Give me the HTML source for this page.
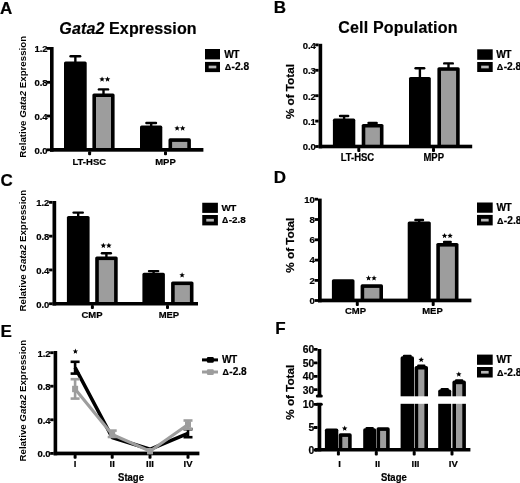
<!DOCTYPE html>
<html><head><meta charset="utf-8"><style>
html,body{margin:0;padding:0;background:#fff;}
body{width:520px;height:483px;overflow:hidden;}
svg{display:block;will-change:transform;filter:blur(0.3px);}
text{font-family:"Liberation Sans", sans-serif;font-weight:bold;stroke:#000;stroke-width:0.2px;}
</style></head><body>
<svg width="520" height="483" viewBox="0 0 520 483">
<rect width="520" height="483" fill="#fff"/>
<text x="0" y="13.7" font-size="17" text-anchor="start" fill="#000">A</text>
<text x="59.3" y="34.2" font-size="16" letter-spacing="0.14"><tspan font-style="italic">Gata2</tspan> Expression</text>
<text x="25.9" y="96.8" font-size="9.7" style="stroke:none" text-anchor="middle" transform="rotate(-90 25.9 96.8)">Relative <tspan font-style="italic">Gata2</tspan> Expression</text>
<rect x="50" y="47" width="3.6" height="104.7" fill="#000"/>
<rect x="46.6" y="47" width="3.4" height="2.8" fill="#000"/>
<text x="47.6" y="52.27" font-size="9.5" text-anchor="end" fill="#000">1.2</text>
<rect x="46.6" y="80.9" width="3.4" height="2.8" fill="#000"/>
<text x="47.6" y="86.17" font-size="9.5" text-anchor="end" fill="#000">0.8</text>
<rect x="46.6" y="114.6" width="3.4" height="2.8" fill="#000"/>
<text x="47.6" y="119.87" font-size="9.5" text-anchor="end" fill="#000">0.4</text>
<rect x="46.6" y="148.4" width="3.4" height="2.8" fill="#000"/>
<text x="47.6" y="153.67" font-size="9.5" text-anchor="end" fill="#000">0.0</text>
<rect x="64" y="61.5" width="22.7" height="88.5" fill="#000" rx="1.6"/>
<line x1="75.35" y1="62.5" x2="75.35" y2="56.2" stroke="#000" stroke-width="2.4" stroke-linecap="butt"/>
<line x1="70.55" y1="56.2" x2="80.15" y2="56.2" stroke="#000" stroke-width="2.4" stroke-linecap="round"/>
<rect x="92.4" y="93.4" width="22.2" height="56.6" fill="#000" rx="1.6"/>
<rect x="96" y="97" width="15" height="53" fill="#9d9d9d"/>
<line x1="103.5" y1="94.4" x2="103.5" y2="89.4" stroke="#000" stroke-width="2.4" stroke-linecap="butt"/>
<line x1="98.9" y1="89.4" x2="108.1" y2="89.4" stroke="#000" stroke-width="2.4" stroke-linecap="round"/>
<rect x="140" y="125.6" width="22.3" height="24.4" fill="#000" rx="1.6"/>
<line x1="151.2" y1="126.6" x2="151.2" y2="123" stroke="#000" stroke-width="2.4" stroke-linecap="butt"/>
<line x1="146.4" y1="123" x2="156" y2="123" stroke="#000" stroke-width="2.4" stroke-linecap="round"/>
<rect x="168.5" y="138.3" width="22.4" height="11.7" fill="#000" rx="1.6"/>
<rect x="172.1" y="141.9" width="15.2" height="8.1" fill="#9d9d9d"/>
<polygon points="102.05,76.4 102.81,78.25 104.81,78.4 103.29,79.7 103.75,81.65 102.05,80.6 100.35,81.65 100.81,79.7 99.29,78.4 101.29,78.25" fill="#000"/>
<polygon points="107.55,76.4 108.31,78.25 110.31,78.4 108.79,79.7 109.25,81.65 107.55,80.6 105.85,81.65 106.31,79.7 104.79,78.4 106.79,78.25" fill="#000"/>
<polygon points="177.15,125.4 177.91,127.25 179.91,127.4 178.39,128.7 178.85,130.65 177.15,129.6 175.45,130.65 175.91,128.7 174.39,127.4 176.39,127.25" fill="#000"/>
<polygon points="182.65,125.4 183.41,127.25 185.41,127.4 183.89,128.7 184.35,130.65 182.65,129.6 180.95,130.65 181.41,128.7 179.89,127.4 181.89,127.25" fill="#000"/>
<rect x="50" y="148" width="153.4" height="3.7" fill="#000"/>
<rect x="88.1" y="151.2" width="3" height="4.1" fill="#000" rx="1"/>
<rect x="164" y="151.2" width="3" height="4.1" fill="#000" rx="1"/>
<text x="89.3" y="164.6" font-size="9.5" text-anchor="middle" fill="#000">LT-HSC</text>
<text x="165.5" y="164.6" font-size="9.5" text-anchor="middle" fill="#000">MPP</text>
<rect x="205" y="49" width="15" height="10.4" fill="#000"/>
<rect x="205" y="61.9" width="15" height="10.2" fill="#000"/>
<rect x="208.7" y="65.65" width="7.6" height="2.7" fill="#b8b8b8"/>
<text x="224.2" y="58.1" font-size="10.2" text-anchor="start" letter-spacing="-0.6" fill="#000">WT</text>
<text x="224.2" y="70.4" font-size="10.2"><tspan font-size="8.98" dx="0.5">&#916;</tspan><tspan dx="0.4">-2.8</tspan></text>
<text x="273.8" y="12.7" font-size="17" text-anchor="start" fill="#000">B</text>
<text x="397.9" y="32.8" font-size="16" text-anchor="middle" letter-spacing="0.2" fill="#000">Cell Population</text>
<text x="293.9" y="91.6" font-size="11.7" text-anchor="middle" transform="rotate(-90 293.9 91.6)" fill="#000">% of Total</text>
<rect x="318.6" y="43.8" width="3.6" height="104.5" fill="#000"/>
<rect x="315.2" y="43.5" width="3.4" height="2.8" fill="#000"/>
<text x="315.9" y="48.77" font-size="9.5" text-anchor="end" fill="#000">0.4</text>
<rect x="315.2" y="68.9" width="3.4" height="2.8" fill="#000"/>
<text x="315.9" y="74.17" font-size="9.5" text-anchor="end" fill="#000">0.3</text>
<rect x="315.2" y="94.3" width="3.4" height="2.8" fill="#000"/>
<text x="315.9" y="99.57" font-size="9.5" text-anchor="end" fill="#000">0.2</text>
<rect x="315.2" y="119.7" width="3.4" height="2.8" fill="#000"/>
<text x="315.9" y="124.97" font-size="9.5" text-anchor="end" fill="#000">0.1</text>
<rect x="315.2" y="145.1" width="3.4" height="2.8" fill="#000"/>
<text x="315.9" y="150.37" font-size="9.5" text-anchor="end" fill="#000">0.0</text>
<rect x="332.9" y="118.6" width="22.4" height="27.4" fill="#000" rx="1.6"/>
<line x1="344.1" y1="119.6" x2="344.1" y2="116" stroke="#000" stroke-width="2.4" stroke-linecap="butt"/>
<line x1="340.05" y1="116" x2="348.15" y2="116" stroke="#000" stroke-width="2.4" stroke-linecap="round"/>
<rect x="361.7" y="123.9" width="21.8" height="22.1" fill="#000" rx="1.6"/>
<rect x="365.3" y="127.5" width="14.6" height="18.5" fill="#9d9d9d"/>
<line x1="372.6" y1="124.9" x2="372.6" y2="123" stroke="#000" stroke-width="2.4" stroke-linecap="butt"/>
<line x1="368.55" y1="123" x2="376.65" y2="123" stroke="#000" stroke-width="2.4" stroke-linecap="round"/>
<rect x="409" y="77" width="21.8" height="69" fill="#000" rx="1.6"/>
<line x1="419.9" y1="78" x2="419.9" y2="68.2" stroke="#000" stroke-width="2.4" stroke-linecap="butt"/>
<line x1="415.6" y1="68.2" x2="424.2" y2="68.2" stroke="#000" stroke-width="2.4" stroke-linecap="round"/>
<rect x="437.4" y="67.2" width="22.3" height="78.8" fill="#000" rx="1.6"/>
<rect x="441" y="70.8" width="15.1" height="75.2" fill="#9d9d9d"/>
<line x1="448.5" y1="68.2" x2="448.5" y2="63.4" stroke="#000" stroke-width="2.4" stroke-linecap="butt"/>
<line x1="444.2" y1="63.4" x2="452.8" y2="63.4" stroke="#000" stroke-width="2.4" stroke-linecap="round"/>
<rect x="318.6" y="144.7" width="153.6" height="3.6" fill="#000"/>
<rect x="357.3" y="147.8" width="3" height="4.1" fill="#000" rx="1"/>
<rect x="432" y="147.8" width="3" height="4.1" fill="#000" rx="1"/>
<text x="0" y="0" font-size="9.5" text-anchor="middle" transform="translate(357.4 161.2) scale(1 1.06)" fill="#000">LT-HSC</text>
<text x="0" y="0" font-size="9.5" text-anchor="middle" transform="translate(433.7 161.2) scale(1 1.06)" fill="#000">MPP</text>
<rect x="477.2" y="49.3" width="15.5" height="10.5" fill="#000"/>
<rect x="477.2" y="62" width="15.5" height="10" fill="#000"/>
<rect x="481.15" y="65.65" width="7.6" height="2.7" fill="#b8b8b8"/>
<text x="496.3" y="58.1" font-size="10.2" text-anchor="start" letter-spacing="-0.6" fill="#000">WT</text>
<text x="496.3" y="69.9" font-size="10.2"><tspan font-size="8.98" dx="0.5">&#916;</tspan><tspan dx="0.4">-2.8</tspan></text>
<text x="0.6" y="186" font-size="17" text-anchor="start" fill="#000">C</text>
<text x="25.9" y="250.65" font-size="9.7" style="stroke:none" text-anchor="middle" transform="rotate(-90 25.9 250.65)">Relative <tspan font-style="italic">Gata2</tspan> Expression</text>
<rect x="52.5" y="201" width="3.7" height="104.5" fill="#000"/>
<rect x="49.1" y="200.95" width="3.4" height="2.8" fill="#000"/>
<text x="49.4" y="206.22" font-size="9.5" text-anchor="end" fill="#000">1.2</text>
<rect x="49.1" y="234.75" width="3.4" height="2.8" fill="#000"/>
<text x="49.4" y="240.02" font-size="9.5" text-anchor="end" fill="#000">0.8</text>
<rect x="49.1" y="268.55" width="3.4" height="2.8" fill="#000"/>
<text x="49.4" y="273.82" font-size="9.5" text-anchor="end" fill="#000">0.4</text>
<rect x="49.1" y="302.35" width="3.4" height="2.8" fill="#000"/>
<text x="49.4" y="307.62" font-size="9.5" text-anchor="end" fill="#000">0.0</text>
<rect x="66.9" y="216" width="22.7" height="88" fill="#000" rx="1.6"/>
<line x1="78.2" y1="217" x2="78.2" y2="212.6" stroke="#000" stroke-width="2.4" stroke-linecap="butt"/>
<line x1="73.6" y1="212.6" x2="82.8" y2="212.6" stroke="#000" stroke-width="2.4" stroke-linecap="round"/>
<rect x="95.2" y="256.5" width="22.5" height="47.5" fill="#000" rx="1.6"/>
<rect x="98.8" y="260.1" width="15.3" height="43.9" fill="#9d9d9d"/>
<line x1="106.4" y1="257.5" x2="106.4" y2="253.3" stroke="#000" stroke-width="2.4" stroke-linecap="butt"/>
<line x1="101.95" y1="253.3" x2="110.85" y2="253.3" stroke="#000" stroke-width="2.4" stroke-linecap="round"/>
<rect x="142.4" y="272.8" width="22.5" height="31.2" fill="#000" rx="1.6"/>
<line x1="153.6" y1="273.8" x2="153.6" y2="271.1" stroke="#000" stroke-width="2.4" stroke-linecap="butt"/>
<line x1="149" y1="271.1" x2="158.2" y2="271.1" stroke="#000" stroke-width="2.4" stroke-linecap="round"/>
<rect x="171.1" y="281.5" width="22.4" height="22.5" fill="#000" rx="1.6"/>
<rect x="174.7" y="285.1" width="15.2" height="18.9" fill="#9d9d9d"/>
<polygon points="103.35,242.7 104.11,244.55 106.11,244.7 104.59,246 105.05,247.95 103.35,246.9 101.65,247.95 102.11,246 100.59,244.7 102.59,244.55" fill="#000"/>
<polygon points="108.85,242.7 109.61,244.55 111.61,244.7 110.09,246 110.55,247.95 108.85,246.9 107.15,247.95 107.61,246 106.09,244.7 108.09,244.55" fill="#000"/>
<polygon points="182.1,272.3 182.86,274.15 184.86,274.3 183.34,275.6 183.8,277.55 182.1,276.5 180.4,277.55 180.86,275.6 179.34,274.3 181.34,274.15" fill="#000"/>
<rect x="52.5" y="302" width="145.5" height="3.5" fill="#000"/>
<rect x="90.9" y="305" width="3" height="4.1" fill="#000" rx="1"/>
<rect x="166" y="305" width="3" height="4.1" fill="#000" rx="1"/>
<text x="0" y="0" font-size="9.5" text-anchor="middle" transform="translate(92 317.5) scale(1 1.03)" fill="#000">CMP</text>
<text x="0" y="0" font-size="9.5" text-anchor="middle" transform="translate(168.9 317.5) scale(1 1.03)" fill="#000">MEP</text>
<rect x="202.25" y="202.75" width="15.65" height="10.15" fill="#000"/>
<rect x="202.25" y="215" width="15.65" height="10.4" fill="#000"/>
<rect x="206.27" y="218.85" width="7.6" height="2.7" fill="#b8b8b8"/>
<text x="221.6" y="211.2" font-size="9.9" text-anchor="start" letter-spacing="-0.6" fill="#000">WT</text>
<text x="221.6" y="223.3" font-size="9.9"><tspan font-size="8.71" dx="0.5">&#916;</tspan><tspan dx="0.4">-2.8</tspan></text>
<text x="273.8" y="182.7" font-size="17" text-anchor="start" fill="#000">D</text>
<text x="293.9" y="245.15" font-size="11.7" text-anchor="middle" transform="rotate(-90 293.9 245.15)" fill="#000">% of Total</text>
<rect x="318" y="198.6" width="3.7" height="103.7" fill="#000"/>
<rect x="314.6" y="197.8" width="3.4" height="2.8" fill="#000"/>
<text x="314.9" y="202.57" font-size="9.5" text-anchor="end" fill="#000">10</text>
<rect x="314.6" y="218.1" width="3.4" height="2.8" fill="#000"/>
<text x="314.9" y="222.87" font-size="9.5" text-anchor="end" fill="#000">8</text>
<rect x="314.6" y="238.4" width="3.4" height="2.8" fill="#000"/>
<text x="314.9" y="243.17" font-size="9.5" text-anchor="end" fill="#000">6</text>
<rect x="314.6" y="258.7" width="3.4" height="2.8" fill="#000"/>
<text x="314.9" y="263.47" font-size="9.5" text-anchor="end" fill="#000">4</text>
<rect x="314.6" y="279" width="3.4" height="2.8" fill="#000"/>
<text x="314.9" y="283.77" font-size="9.5" text-anchor="end" fill="#000">2</text>
<rect x="314.6" y="299.1" width="3.4" height="2.8" fill="#000"/>
<text x="314.9" y="303.87" font-size="9.5" text-anchor="end" fill="#000">0</text>
<rect x="331.9" y="279.2" width="22.6" height="20.8" fill="#000" rx="1.6"/>
<rect x="360.6" y="284.3" width="22.4" height="15.7" fill="#000" rx="1.6"/>
<rect x="364.2" y="287.9" width="15.2" height="12.1" fill="#9d9d9d"/>
<rect x="407.7" y="221.4" width="23.1" height="78.6" fill="#000" rx="1.6"/>
<line x1="419.2" y1="222.4" x2="419.2" y2="220" stroke="#000" stroke-width="2.4" stroke-linecap="butt"/>
<line x1="415.4" y1="220" x2="423" y2="220" stroke="#000" stroke-width="2.4" stroke-linecap="round"/>
<rect x="436.3" y="243" width="22.2" height="57" fill="#000" rx="1.6"/>
<rect x="439.9" y="246.6" width="15" height="53.4" fill="#9d9d9d"/>
<line x1="447.4" y1="244" x2="447.4" y2="242" stroke="#000" stroke-width="2.4" stroke-linecap="butt"/>
<line x1="444.1" y1="242" x2="450.7" y2="242" stroke="#000" stroke-width="2.4" stroke-linecap="round"/>
<polygon points="368.55,275.3 369.31,277.15 371.31,277.3 369.79,278.6 370.25,280.55 368.55,279.5 366.85,280.55 367.31,278.6 365.79,277.3 367.79,277.15" fill="#000"/>
<polygon points="374.05,275.3 374.81,277.15 376.81,277.3 375.29,278.6 375.75,280.55 374.05,279.5 372.35,280.55 372.81,278.6 371.29,277.3 373.29,277.15" fill="#000"/>
<polygon points="444.55,232.9 445.31,234.75 447.31,234.9 445.79,236.2 446.25,238.15 444.55,237.1 442.85,238.15 443.31,236.2 441.79,234.9 443.79,234.75" fill="#000"/>
<polygon points="450.05,232.9 450.81,234.75 452.81,234.9 451.29,236.2 451.75,238.15 450.05,237.1 448.35,238.15 448.81,236.2 447.29,234.9 449.29,234.75" fill="#000"/>
<rect x="318" y="298.6" width="153.4" height="3.7" fill="#000"/>
<rect x="355.8" y="301.8" width="3" height="4.1" fill="#000" rx="1"/>
<rect x="431.7" y="301.8" width="3" height="4.1" fill="#000" rx="1"/>
<text x="0" y="0" font-size="9.5" text-anchor="middle" transform="translate(355.5 313.5) scale(1 1.04)" fill="#000">CMP</text>
<text x="0" y="0" font-size="9.5" text-anchor="middle" transform="translate(432.5 313.5) scale(1 1.04)" fill="#000">MEP</text>
<rect x="477" y="202.5" width="15.7" height="10.25" fill="#000"/>
<rect x="477" y="214.9" width="15.7" height="10.5" fill="#000"/>
<rect x="481.05" y="218.8" width="7.6" height="2.7" fill="#b8b8b8"/>
<text x="496.5" y="211.35" font-size="10.2" text-anchor="start" letter-spacing="-0.6" fill="#000">WT</text>
<text x="496.5" y="223.6" font-size="10.2"><tspan font-size="8.98" dx="0.5">&#916;</tspan><tspan dx="0.4">-2.8</tspan></text>
<text x="0.6" y="336.9" font-size="17" text-anchor="start" fill="#000">E</text>
<text x="25.9" y="400.65" font-size="9.7" style="stroke:none" text-anchor="middle" transform="rotate(-90 25.9 400.65)">Relative <tspan font-style="italic">Gata2</tspan> Expression</text>
<rect x="53.6" y="351" width="3.6" height="104.3" fill="#000"/>
<rect x="50.2" y="351.3" width="3.4" height="2.8" fill="#000"/>
<text x="50.6" y="356.57" font-size="9.5" text-anchor="end" fill="#000">1.2</text>
<rect x="50.2" y="384.8" width="3.4" height="2.8" fill="#000"/>
<text x="50.6" y="390.07" font-size="9.5" text-anchor="end" fill="#000">0.8</text>
<rect x="50.2" y="418.4" width="3.4" height="2.8" fill="#000"/>
<text x="50.6" y="423.67" font-size="9.5" text-anchor="end" fill="#000">0.4</text>
<rect x="50.2" y="452" width="3.4" height="2.8" fill="#000"/>
<text x="50.6" y="457.27" font-size="9.5" text-anchor="end" fill="#000">0.0</text>
<rect x="53.6" y="451.6" width="145.8" height="3.7" fill="#000"/>
<rect x="73.6" y="454.8" width="3" height="3.9" fill="#000" rx="1"/>
<rect x="110.7" y="454.8" width="3" height="3.9" fill="#000" rx="1"/>
<rect x="148.5" y="454.8" width="3" height="3.9" fill="#000" rx="1"/>
<rect x="186.5" y="454.8" width="3" height="3.9" fill="#000" rx="1"/>
<line x1="75.1" y1="361.8" x2="75.1" y2="373.6" stroke="#000" stroke-width="2.6" stroke-linecap="butt"/>
<line x1="70.6" y1="361.8" x2="79.6" y2="361.8" stroke="#000" stroke-width="2.6" stroke-linecap="butt"/>
<line x1="70.6" y1="373.6" x2="79.6" y2="373.6" stroke="#000" stroke-width="2.6" stroke-linecap="butt"/>
<line x1="188" y1="429.2" x2="188" y2="437.2" stroke="#000" stroke-width="2.6" stroke-linecap="butt"/>
<line x1="183.5" y1="429.2" x2="192.5" y2="429.2" stroke="#000" stroke-width="2.6" stroke-linecap="butt"/>
<line x1="183.5" y1="437.2" x2="192.5" y2="437.2" stroke="#000" stroke-width="2.6" stroke-linecap="butt"/>
<polyline points="75.1,367.5 112.2,437.5 150,449.3 188,433.3" fill="none" stroke="#000" stroke-width="3.6" stroke-linejoin="round" stroke-linecap="butt"/>
<line x1="75.1" y1="379.2" x2="75.1" y2="398.6" stroke="#9d9d9d" stroke-width="2.6" stroke-linecap="butt"/>
<line x1="70.6" y1="379.2" x2="79.6" y2="379.2" stroke="#9d9d9d" stroke-width="2.6" stroke-linecap="butt"/>
<line x1="70.6" y1="398.6" x2="79.6" y2="398.6" stroke="#9d9d9d" stroke-width="2.6" stroke-linecap="butt"/>
<line x1="112.2" y1="430.6" x2="112.2" y2="437" stroke="#9d9d9d" stroke-width="2.6" stroke-linecap="butt"/>
<line x1="107.7" y1="430.6" x2="116.7" y2="430.6" stroke="#9d9d9d" stroke-width="2.6" stroke-linecap="butt"/>
<line x1="107.7" y1="437" x2="116.7" y2="437" stroke="#9d9d9d" stroke-width="2.6" stroke-linecap="butt"/>
<line x1="188" y1="420.5" x2="188" y2="428.8" stroke="#9d9d9d" stroke-width="2.6" stroke-linecap="butt"/>
<line x1="183.5" y1="420.5" x2="192.5" y2="420.5" stroke="#9d9d9d" stroke-width="2.6" stroke-linecap="butt"/>
<line x1="183.5" y1="428.8" x2="192.5" y2="428.8" stroke="#9d9d9d" stroke-width="2.6" stroke-linecap="butt"/>
<polyline points="75.1,389 112.2,434.5 150,451.2 188,424.5" fill="none" stroke="#9d9d9d" stroke-width="3.1" stroke-linejoin="round" stroke-linecap="butt"/>
<rect x="72.1" y="385.8" width="6" height="6.4" fill="#9d9d9d"/>
<rect x="109.2" y="431.3" width="6" height="6.4" fill="#9d9d9d"/>
<rect x="147" y="448" width="6" height="6.4" fill="#9d9d9d"/>
<rect x="185" y="421.3" width="6" height="6.4" fill="#9d9d9d"/>
<polygon points="75.4,348.6 76.13,350.39 78.06,350.53 76.59,351.79 77.05,353.67 75.4,352.65 73.75,353.67 74.21,351.79 72.74,350.53 74.67,350.39" fill="#000"/>
<text x="0" y="0" font-size="9.5" text-anchor="middle" transform="translate(75.1 467.3) scale(1 1.02)" fill="#000">I</text>
<text x="0" y="0" font-size="9.5" text-anchor="middle" transform="translate(112.2 467.3) scale(1 1.02)" fill="#000">II</text>
<text x="0" y="0" font-size="9.5" text-anchor="middle" transform="translate(150 467.3) scale(1 1.02)" fill="#000">III</text>
<text x="0" y="0" font-size="9.5" text-anchor="middle" transform="translate(188 467.3) scale(1 1.02)" fill="#000">IV</text>
<text x="0" y="0" font-size="9.5" text-anchor="middle" transform="translate(131 481.2) scale(1 1.08)" fill="#000">Stage</text>
<line x1="202" y1="359.9" x2="218" y2="359.9" stroke="#000" stroke-width="3" stroke-linecap="butt"/>
<rect x="206.9" y="357" width="6.9" height="5.8" fill="#000" rx="1.2"/>
<line x1="202" y1="372" x2="218" y2="372" stroke="#9d9d9d" stroke-width="3" stroke-linecap="butt"/>
<rect x="206.9" y="369.2" width="6.9" height="5.8" fill="#9d9d9d" rx="1.2"/>
<text x="222" y="363" font-size="10.1" text-anchor="start" letter-spacing="-0.6" fill="#000">WT</text>
<text x="222" y="375.0" font-size="10.1"><tspan font-size="8.9" dx="0.5">&#916;</tspan><tspan dx="0.4">-2.8</tspan></text>
<text x="275.2" y="333.7" font-size="17" text-anchor="start" fill="#000">F</text>
<text x="294.1" y="392.25" font-size="11.7" text-anchor="middle" transform="rotate(-90 294.1 392.25)" fill="#000">% of Total</text>
<rect x="317.6" y="349" width="3.7" height="47.5" fill="#000"/>
<rect x="315.8" y="394.6" width="7" height="3" fill="#000" rx="1.5"/>
<rect x="315.4" y="402.7" width="7.4" height="3.1" fill="#000" rx="1.5"/>
<rect x="317.6" y="404" width="3.7" height="47.4" fill="#000"/>
<rect x="313.8" y="347.9" width="3.8" height="2.8" fill="#000" rx="0.6"/>
<text x="314.2" y="353.24" font-size="10.3" text-anchor="end" fill="#000">60</text>
<rect x="313.8" y="361.5" width="3.8" height="2.8" fill="#000" rx="0.6"/>
<text x="314.2" y="366.84" font-size="10.3" text-anchor="end" fill="#000">50</text>
<rect x="313.8" y="375" width="3.8" height="2.8" fill="#000" rx="0.6"/>
<text x="314.2" y="380.34" font-size="10.3" text-anchor="end" fill="#000">40</text>
<rect x="313.8" y="388.2" width="3.8" height="2.8" fill="#000" rx="0.6"/>
<text x="314.2" y="393.54" font-size="10.3" text-anchor="end" fill="#000">30</text>
<rect x="313.8" y="402.9" width="3.8" height="2.8" fill="#000" rx="0.6"/>
<text x="314.2" y="408.24" font-size="10.3" text-anchor="end" fill="#000">10</text>
<rect x="313.8" y="426.1" width="3.8" height="2.8" fill="#000" rx="0.6"/>
<text x="314.2" y="431.44" font-size="10.3" text-anchor="end" fill="#000">5</text>
<rect x="313.8" y="448.6" width="3.8" height="2.8" fill="#000" rx="0.6"/>
<text x="314.2" y="453.94" font-size="10.3" text-anchor="end" fill="#000">0</text>
<rect x="324.9" y="428.4" width="13.4" height="21.6" fill="#000" rx="1.8"/>
<rect x="338.7" y="433.3" width="13" height="16.7" fill="#000" rx="1.8"/>
<rect x="342.3" y="436.9" width="5.8" height="13.1" fill="#9d9d9d"/>
<rect x="363.2" y="428.3" width="12.9" height="21.7" fill="#000" rx="1.8"/>
<line x1="366.65" y1="428.1" x2="372.65" y2="428.1" stroke="#000" stroke-width="2.4" stroke-linecap="round"/>
<rect x="376.5" y="427.3" width="13.2" height="22.7" fill="#000" rx="1.8"/>
<rect x="380.1" y="430.9" width="6" height="19.1" fill="#9d9d9d"/>
<rect x="400.6" y="356.2" width="13.4" height="93.8" fill="#000" rx="1.8"/>
<line x1="404.05" y1="356" x2="410.55" y2="356" stroke="#000" stroke-width="2.4" stroke-linecap="round"/>
<rect x="414.6" y="365.9" width="13.4" height="84.1" fill="#000" rx="1.8"/>
<rect x="418.2" y="369.5" width="6.2" height="80.5" fill="#9d9d9d"/>
<line x1="418.3" y1="365.7" x2="424.3" y2="365.7" stroke="#000" stroke-width="2.4" stroke-linecap="round"/>
<rect x="438.2" y="389.4" width="13" height="60.6" fill="#000" rx="1.8"/>
<line x1="441.7" y1="389.2" x2="447.7" y2="389.2" stroke="#000" stroke-width="2.4" stroke-linecap="round"/>
<rect x="452.4" y="380.6" width="13.5" height="69.4" fill="#000" rx="1.8"/>
<rect x="456" y="384.2" width="6.3" height="65.8" fill="#9d9d9d"/>
<line x1="456.15" y1="380.4" x2="462.15" y2="380.4" stroke="#000" stroke-width="2.4" stroke-linecap="round"/>
<rect x="323" y="396.3" width="147" height="7.5" fill="#fff"/>
<polygon points="344.7,425.6 345.46,427.45 347.46,427.6 345.94,428.9 346.4,430.85 344.7,429.8 343,430.85 343.46,428.9 341.94,427.6 343.94,427.45" fill="#000"/>
<polygon points="421.2,356.9 421.96,358.75 423.96,358.9 422.44,360.2 422.9,362.15 421.2,361.1 419.5,362.15 419.96,360.2 418.44,358.9 420.44,358.75" fill="#000"/>
<polygon points="458.8,371.4 459.56,373.25 461.56,373.4 460.04,374.7 460.5,376.65 458.8,375.6 457.1,376.65 457.56,374.7 456.04,373.4 458.04,373.25" fill="#000"/>
<rect x="315" y="448" width="155.4" height="3.5" fill="#000"/>
<rect x="336.9" y="451" width="3" height="4.5" fill="#000" rx="1"/>
<rect x="374.8" y="451" width="3" height="4.5" fill="#000" rx="1"/>
<rect x="412.7" y="451" width="3" height="4.5" fill="#000" rx="1"/>
<rect x="450.5" y="451" width="3" height="4.5" fill="#000" rx="1"/>
<text x="0" y="0" font-size="9.5" text-anchor="middle" transform="translate(339.7 466.6) scale(1 1.05)" fill="#000">I</text>
<text x="0" y="0" font-size="9.5" text-anchor="middle" transform="translate(377.6 466.6) scale(1 1.05)" fill="#000">II</text>
<text x="0" y="0" font-size="9.5" text-anchor="middle" transform="translate(415.5 466.6) scale(1 1.05)" fill="#000">III</text>
<text x="0" y="0" font-size="9.5" text-anchor="middle" transform="translate(453.3 466.6) scale(1 1.05)" fill="#000">IV</text>
<text x="0" y="0" font-size="9.5" text-anchor="middle" transform="translate(393.8 481.4) scale(1 1.06)" fill="#000">Stage</text>
<rect x="477" y="354.6" width="15.7" height="10.2" fill="#000"/>
<rect x="477" y="367" width="15.7" height="10.5" fill="#000"/>
<rect x="481.05" y="370.9" width="7.6" height="2.7" fill="#b8b8b8"/>
<text x="496.5" y="363.4" font-size="10.2" text-anchor="start" letter-spacing="-0.6" fill="#000">WT</text>
<text x="496.5" y="375.7" font-size="10.2"><tspan font-size="8.98" dx="0.5">&#916;</tspan><tspan dx="0.4">-2.8</tspan></text>
</svg>
</body></html>
